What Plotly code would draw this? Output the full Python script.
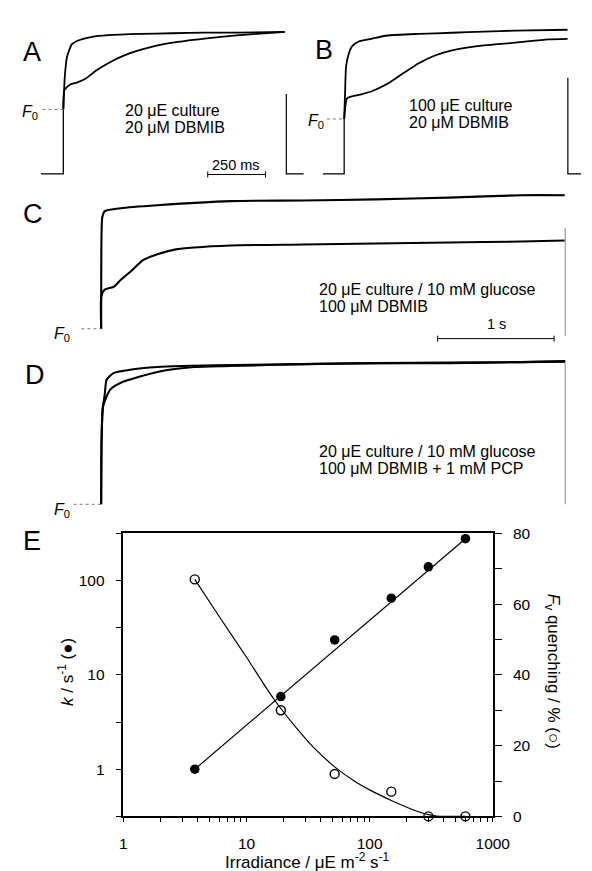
import plotly.graph_objects as go

W, H = 592, 871
FONT = "Liberation Sans, Arial, sans-serif"

# ---------------- Panel E data ----------------
irradiance = [3.8, 19, 52, 150, 300, 600]
k_rate = [1.0, 5.9, 23.5, 65, 140, 278]
fv_quench = [67, 30, 12, 7, 0, 0]
k_fit_irr = [3.8, 600]
k_fit = [1.0, 278]
q_fit_irr = [3.8, 6, 10, 15, 19, 25, 35, 52, 75, 100, 150, 200, 250, 300, 350, 400, 600]
q_fit = [67, 56.5, 45, 35.5, 30.5, 25.3, 19.5, 14, 10, 7.5, 4.5, 2.6, 1.3, 0.5, 0.1, 0, 0]

x_tickvals = [1, 10, 100, 1000]
x_ticktext = ["1", "10", "100", "1000"]
x_minor = [2, 3, 4, 5, 6, 7, 8, 9, 20, 30, 40, 50, 60, 70, 80, 90,
           200, 300, 400, 500, 600, 700, 800, 900]
k_tickvals = [1, 10, 100]
k_ticktext = ["1", "10", "100"]
k_minor = [0.3163, 3.162, 31.62, 316.2]
q_tickvals = [0, 20, 40, 60, 80]
q_ticktext = ["0", "20", "40", "60", "80"]
q_minor = [10, 30, 50, 70]

# ---------------- Panel A data (time ms, F/F0) ----------------
A_dark_t = [-97, 0, 0]
A_dark_F = [0, 0, 1.0]
A_fast_t = [0, 2.8, 6.9, 15.3, 23.6, 37.5, 58.3, 125, 194, 333, 472, 611, 750, 958]
A_fast_F = [1.0, 1.26, 1.53, 1.80, 1.90, 2.01, 2.06, 2.125, 2.15, 2.17, 2.18, 2.19, 2.19, 2.20]
A_slow_t = [0, 4, 15.3, 30.6, 58.3, 97.2, 139, 194, 264, 333, 472, 611, 750, 958]
A_slow_F = [1.0, 1.29, 1.345, 1.386, 1.413, 1.477, 1.594, 1.716, 1.837, 1.922, 2.033, 2.097, 2.146, 2.20]
A_off_t = [965, 965, 1040]
A_off_F = [1.24, 0, 0]

# ---------------- Panel B data ----------------
B_dark_t = [-92, 0, 0]
B_dark_F = [0, 0, 1.0]
B_fast_t = [0, 4.2, 8.3, 20.8, 33.3, 62.5, 116.7, 187.5, 325, 466.7, 604, 741.7, 966.7]
B_fast_F = [1.0, 1.52, 1.96, 2.20, 2.32, 2.41, 2.46, 2.52, 2.55, 2.57, 2.59, 2.61, 2.625]
B_slow_t = [0, 12.5, 33.3, 75, 116.7, 187.5, 258.3, 325, 395.8, 466.7, 604, 741.7, 883, 966.7]
B_slow_F = [1.0, 1.375, 1.41, 1.45, 1.5, 1.64, 1.84, 2.02, 2.16, 2.25, 2.34, 2.39, 2.45, 2.46]
B_off_t = [968, 968, 1025]
B_off_F = [1.75, 0, 0]

# ---------------- Panel C data ----------------
C_fast_t = [0, 3, 10, 31, 169, 483, 1111, 1731, 2360, 2983, 3607, 3979]
C_fast_F = [1, 2.6, 2.9, 3.0, 3.05, 3.1, 3.17, 3.18, 3.2, 3.23, 3.27, 3.27]
C_slow_t = [0, 2, 31, 111, 169, 268, 359, 483, 640, 797, 1111, 1731, 2360, 2983, 3607, 3979]
C_slow_F = [1, 1.55, 1.667, 1.717, 1.833, 2.0, 2.167, 2.267, 2.35, 2.383, 2.417, 2.433, 2.45, 2.467, 2.483, 2.5]
C_off_t = [3983, 3983]
C_off_F = [2.72, 0.88]

# ---------------- Panel D data ----------------
D_fast_t = [0, 4, 16, 31, 47, 109, 235, 483, 1111, 1731, 2360, 2983, 3607, 3983]
D_fast_F = [1, 2.117, 2.667, 2.867, 3.117, 3.233, 3.283, 3.333, 3.367, 3.383, 3.4, 3.4, 3.417, 3.433]
D_slow_t = [0, 4, 16, 78, 169, 326, 483, 797, 1111, 1731, 2360, 2983, 3607, 3983]
D_slow_F = [1, 2.117, 2.667, 2.95, 3.067, 3.167, 3.25, 3.333, 3.35, 3.383, 3.4, 3.408, 3.417, 3.425]
D_off_t = [3983, 3983]
D_off_F = [3.4, 1.0]


# ---------------- helpers ----------------
def px_x(px):
    return px / W


def px_y(py):
    return 1 - py / H


def hidden_axes(dom_px, x0_px, sx, dom_py, base_py, f_base, sy):
    """Invisible axis pair: px = x0_px + t*sx ; py = base_py - (F - f_base)*sy"""
    xa = dict(visible=False, domain=[px_x(dom_px[0]), px_x(dom_px[1])],
              range=[(dom_px[0] - x0_px) / sx, (dom_px[1] - x0_px) / sx])
    ya = dict(visible=False, domain=[px_y(dom_py[1]), px_y(dom_py[0])],
              range=[f_base + (base_py - dom_py[1]) / sy, f_base + (base_py - dom_py[0]) / sy])
    return xa, ya


def ann(text, px, py, size=16, xanchor="left", yanchor="middle", **kw):
    d = dict(x=px_x(px), y=px_y(py), xref="paper", yref="paper", text=text,
             showarrow=False, xanchor=xanchor, yanchor=yanchor,
             font=dict(size=size, color="black", family=FONT))
    d.update(kw)
    return d


fig = go.Figure()
BLK = "black"


def line(x, y, xa, ya, width=1.6, color=BLK, shape="linear", smoothing=0.6):
    fig.add_trace(go.Scatter(x=x, y=y, xaxis=xa, yaxis=ya, mode="lines",
                             line=dict(color=color, width=width, shape=shape, smoothing=smoothing),
                             hoverinfo="skip", showlegend=False))


# Panel A
line(A_dark_t, A_dark_F, "x2", "y3", width=1.3)
line(A_fast_t, A_fast_F, "x2", "y3", width=1.8, shape="spline")
line(A_slow_t, A_slow_F, "x2", "y3", width=1.8, shape="spline")
line(A_off_t, A_off_F, "x2", "y3", width=1.2)
# Panel B
line(B_dark_t, B_dark_F, "x3", "y4", width=1.3)
line(B_fast_t, B_fast_F, "x3", "y4", width=1.8, shape="spline")
line(B_slow_t, B_slow_F, "x3", "y4", width=1.8, shape="spline")
line(B_off_t, B_off_F, "x3", "y4", width=1.2)
# Panel C
line(C_fast_t, C_fast_F, "x4", "y5", width=2.1, shape="spline")
line(C_slow_t, C_slow_F, "x4", "y5", width=2.1, shape="spline")
line(C_off_t, C_off_F, "x4", "y5", width=1.0, color="#888888")
# Panel D
line(D_fast_t, D_fast_F, "x5", "y6", width=2.1, shape="spline")
line(D_slow_t, D_slow_F, "x5", "y6", width=2.1, shape="spline")
line(D_off_t, D_off_F, "x5", "y6", width=1.0, color="#888888")

# Panel E
fig.add_trace(go.Scatter(x=k_fit_irr, y=k_fit, xaxis="x", yaxis="y", mode="lines",
                         line=dict(color=BLK, width=1.2), showlegend=False, hoverinfo="skip"))
fig.add_trace(go.Scatter(x=q_fit_irr, y=q_fit, xaxis="x", yaxis="y2", mode="lines",
                         line=dict(color=BLK, width=1.2, shape="spline", smoothing=0.5),
                         showlegend=False, hoverinfo="skip"))
fig.add_trace(go.Scatter(x=irradiance, y=k_rate, xaxis="x", yaxis="y", mode="markers",
                         marker=dict(symbol="circle", size=9.5, color=BLK),
                         cliponaxis=False, showlegend=False))
fig.add_trace(go.Scatter(x=irradiance, y=fv_quench, xaxis="x", yaxis="y2", mode="markers",
                         marker=dict(symbol="circle-open", size=9, color=BLK, line=dict(width=1.4)),
                         cliponaxis=False, showlegend=False))

# ---------------- layout ----------------
xa2, ya3 = hidden_axes([0, 310], 53.3, 0.24, [0, 175], 160, 0, 65.8)
xa3, ya4 = hidden_axes([280, 592], 345, 0.24, [0, 175], 160, 0, 56)
xa4, ya5 = hidden_axes([0, 592], 92.6, 0.121, [170, 340], 318, 1, 60)
xa5, ya6 = hidden_axes([0, 592], 92.6, 0.121, [340, 515], 497, 1, 60)
xa2["anchor"], ya3["anchor"] = "y3", "x2"
xa3["anchor"], ya4["anchor"] = "y4", "x3"
xa4["anchor"], ya5["anchor"] = "y5", "x4"
xa5["anchor"], ya6["anchor"] = "y6", "x5"

tickfont = dict(size=15.5, color=BLK, family=FONT)
E_left, E_right, E_top, E_bot = 115.7, 499.3, 526.7, 815.3

fig.update_layout(
    width=W, height=H, margin=dict(l=0, r=0, t=0, b=0),
    paper_bgcolor="white", plot_bgcolor="rgba(0,0,0,0)",
    font=dict(family=FONT, color=BLK, size=16),
    xaxis=dict(type="log", range=[0, 3], domain=[px_x(E_left), px_x(E_right)], anchor="y",
               showline=True, linecolor=BLK, linewidth=1.5, mirror=True,
               ticks="outside", ticklen=4, tickwidth=1, tickcolor=BLK,
               tickmode="array", tickvals=x_tickvals, ticktext=x_ticktext, tickfont=tickfont,
               minor=dict(tickmode="array", tickvals=x_minor, ticks="outside", ticklen=4,
                          tickwidth=1, tickcolor=BLK, showgrid=False),
               ticklabelstandoff=8, showgrid=False, zeroline=False),
    yaxis=dict(type="log", range=[-0.5, 2.5], domain=[px_y(E_bot), px_y(E_top)], anchor="x",
               showline=True, linecolor=BLK, linewidth=1.5,
               ticks="outside", ticklen=6, tickwidth=1, tickcolor=BLK,
               tickmode="array", tickvals=k_tickvals, ticktext=k_ticktext, tickfont=tickfont,
               minor=dict(tickmode="array", tickvals=k_minor, ticks="outside", ticklen=6,
                          tickwidth=1, tickcolor=BLK, showgrid=False),
               ticklabelstandoff=8, showgrid=False, zeroline=False),
    yaxis2=dict(range=[0, 80], overlaying="y", side="right", anchor="x",
                showline=True, linecolor=BLK, linewidth=2.2,
                ticks="outside", ticklen=7, tickwidth=1, tickcolor=BLK,
                tickmode="array", tickvals=q_tickvals, ticktext=q_ticktext, tickfont=tickfont,
                minor=dict(tickmode="array", tickvals=q_minor, ticks="outside", ticklen=7,
                           tickwidth=1, tickcolor=BLK, showgrid=False),
                ticklabelstandoff=8, showgrid=False, zeroline=False),
    xaxis2=xa2, yaxis3=ya3, xaxis3=xa3, yaxis4=ya4,
    xaxis4=xa4, yaxis5=ya5, xaxis5=xa5, yaxis6=ya6,
)

# ---------------- shapes: F0 dotted lines & scale bars ----------------
shapes = []


def dotted(xref, yref, t0, t1, f):
    shapes.append(dict(type="line", xref=xref, yref=yref, x0=t0, x1=t1, y0=f, y1=f,
                       line=dict(color="#777777", width=1, dash="dot")))


dotted("x2", "y3", -90, 0, 1)
dotted("x3", "y4", -75, 0, 1)
dotted("x4", "y5", -170, 0, 1)
dotted("x5", "y6", -236, 0, 1)


def scalebar(xref, yref, t0, t1, f):
    shapes.append(dict(type="line", xref=xref, yref=yref, x0=t0, x1=t1, y0=f, y1=f,
                       line=dict(color=BLK, width=1)))
    for t in (t0, t1):
        shapes.append(dict(type="line", xref=xref, yref=yref, ysizemode="pixel", yanchor=f,
                           x0=t, x1=t, y0=-3, y1=3, line=dict(color=BLK, width=1)))


scalebar("x2", "y3", 625, 875, -0.01)
scalebar("x4", "y5", 2888, 3888, 0.833)
fig.update_layout(shapes=shapes)

# ---------------- annotations ----------------
F0 = "<i>F</i><sub>0</sub>"
annots = [
    ann("A", 21, 36, size=27, xanchor="center"),
    ann("B", 324, 34, size=27, xanchor="center"),
    ann("C", 22, 201, size=27, xanchor="center"),
    ann("D", 24, 365, size=27, xanchor="center"),
    ann("E", 21, 534, size=27, xanchor="center"),
    ann(F0, 29, 97, xanchor="right"),
    ann(F0, 326, 107, xanchor="right"),
    ann(F0, 62, 324, xanchor="right"),
    ann(F0, 62, 503, xanchor="right"),
    ann("20 μE culture", 115, 95),
    ann("20 μM DBMIB", 115, 113),
    ann("250 ms", 233, 151, size=14.5, xanchor="center"),
    ann("100 μE culture", 410, 90),
    ann("20 μM DBMIB", 410, 108),
    ann("20 μE culture / 10 mM glucose", 317, 278),
    ann("100 μM DBMIB", 317, 295),
    ann("1 s", 503, 313, size=14.5, xanchor="center"),
    ann("20 μE culture / 10 mM glucose", 317, 443),
    ann("100 μM DBMIB + 1 mM PCP", 317, 460),
    ann("Irradiance / μE m<sup>-2</sup> s<sup>-1</sup>", 307, 861, size=17, xanchor="center"),
    ann("<i>k</i> / s<sup>-1</sup> (●)", 56, 668, size=17, xanchor="center", textangle=-90),
    ann("<i>F</i><sub>v</sub> quenching / % (○)", 561, 667, size=17, xanchor="center", textangle=90),
]
fig.update_layout(annotations=annots)

fig.write_html("out.html")
